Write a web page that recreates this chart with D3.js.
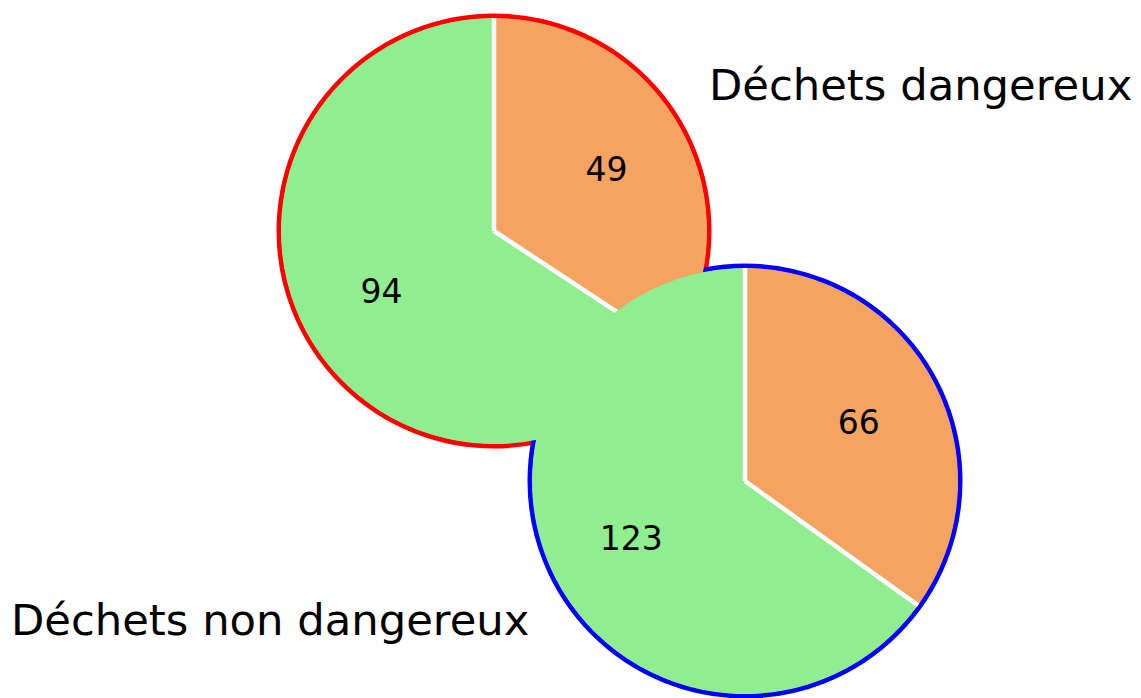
<!DOCTYPE html>
<html>
<head>
<meta charset="utf-8">
<script src="https://cdn.jsdelivr.net/npm/d3@7"></script>
<style>
  html, body { margin: 0; padding: 0; background: #ffffff; }
  svg { display: block; }
  text { font-family: "DejaVu Sans", sans-serif; fill: #000; }
</style>
</head>
<body>
<svg id="chart" width="1141" height="698"></svg>
<script>
// Slice values of each pie (first slice orange, second green)
const sliceColors = ["#F4A460", "#90EE90"];
const pieTitles = ["Déchets dangereux", "Déchets non dangereux"];
const topPieValues = [49, 94];
const bottomPieValues = [66, 123];
const ringColors = ["#FF0000", "#0000FF"];

const W = 1141, H = 698;
const svg = d3.select("#chart");

const radius = 213;
const ringWidth = 5;

const pies = [
  { values: topPieValues, cx: 494, cy: 231, ring: ringColors[0] },
  { values: bottomPieValues, cx: 745, cy: 481, ring: ringColors[1] }
];

const pieGen = d3.pie().sort(null).startAngle(0).endAngle(2 * Math.PI);
const arcGen = d3.arc().innerRadius(0).outerRadius(radius);
const labelArc = d3.arc().innerRadius(radius * 0.6).outerRadius(radius * 0.6);

// Outline rings sit just outside each pie and are drawn first
pies.forEach(p => {
  svg.append("circle")
    .attr("cx", p.cx).attr("cy", p.cy)
    .attr("r", radius + ringWidth / 2 - 0.5)
    .attr("fill", "none")
    .attr("stroke", p.ring)
    .attr("stroke-width", ringWidth);
});

// Pies, later one over the earlier one
pies.forEach(p => {
  const g = svg.append("g").attr("transform", `translate(${p.cx},${p.cy})`);
  const arcs = pieGen(p.values);

  g.selectAll("path.slice")
    .data(arcs)
    .join("path")
    .attr("class", "slice")
    .attr("d", arcGen)
    .attr("fill", (d, i) => sliceColors[i]);

  // White separators along the radial edges
  g.selectAll("line.sep")
    .data(arcs)
    .join("line")
    .attr("class", "sep")
    .attr("x1", 0).attr("y1", 0)
    .attr("x2", d => radius * Math.sin(d.startAngle))
    .attr("y2", d => -radius * Math.cos(d.startAngle))
    .attr("stroke", "#ffffff")
    .attr("stroke-width", 4.5);

  g.selectAll("text.val")
    .data(arcs)
    .join("text")
    .attr("class", "val")
    .attr("x", d => labelArc.centroid(d)[0])
    .attr("y", d => labelArc.centroid(d)[1] + 11)
    .attr("text-anchor", "middle")
    .attr("font-size", 33)
    .text(d => d.data);
});

// Pie titles
svg.append("text")
  .attr("x", 709).attr("y", 100)
  .attr("font-size", 43.3)
  .text(pieTitles[0]);

svg.append("text")
  .attr("x", 11).attr("y", 635)
  .attr("font-size", 43.3)
  .text(pieTitles[1]);
</script>
</body>
</html>
